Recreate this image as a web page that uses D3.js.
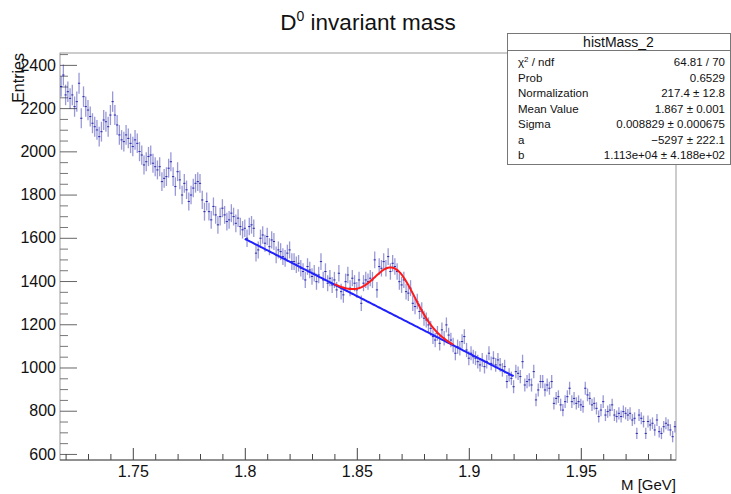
<!DOCTYPE html>
<html>
<head>
<meta charset="utf-8">
<script src="https://cdn.jsdelivr.net/npm/d3@7"></script>
<style>
  body { margin: 0; background: #fff; }
  svg { display: block; font-family: "Liberation Sans", Arial, Helvetica, sans-serif; }
</style>
</head>
<body>
<div id="chart"></div>
<script>
// histogram range and bin contents (275 bins)
const histRange = [1.7175, 1.9925];
const binCounts = [
  2300,2353,2261,2276,2245,2261,2207,2230,2315,2153,2253,2207,2191,2161,2130,2114,2099,2068,2091,2145,
  2137,2114,2168,2230,2168,2122,2076,2053,2045,2076,2060,2037,2022,2053,2037,1999,1983,1937,1952,1976,
  1983,1945,1929,1914,1929,1860,1875,1883,1922,1952,1883,1837,1906,1868,1798,1852,
  1822,1768,1798,1830,1852,1860,1852,1775,1721,1768,1721,1683,1745,1706,1660,1698,1737,1706,1675,1683,
  1714,1698,1667,1691,1652,1637,1644,1598,1652,1660,1644,1529,1544,1598,1613,1575,1606,1559,1590,1583,
  1521,1544,1536,1513,1505,1529,1544,1490,1490,1475,1482,1459,1444,1405,1467,
  1451,1421,1436,1397,1428,1490,1405,1444,1390,1413,1382,1405,1359,1436,1351,1336,1397,1428,1367,1413,
  1390,1359,1405,1297,1390,1405,1397,1413,1405,1498,1359,1467,1459,1490,1459,1513,1444,1482,1467,1444,
  1397,1382,1405,1351,1344,1367,1297,1282,1305,1259,1266,1228,1220,1197,1181,1143,
  1127,1158,1112,1174,1135,1197,1150,1127,1104,1066,1096,1089,1120,1143,1081,1043,1066,1050,1043,1027,
  1012,1035,1004,1027,1066,1019,1043,1012,1035,1012,989,1004,935,965,950,911,981,973,958,1027,
  919,935,943,919,981,850,896,935,935,896,919,904,935,834,857,865,
  827,803,842,865,904,842,857,834,842,827,819,904,873,857,827,834,811,773,803,842,
  780,796,803,827,780,773,788,773,796,788,780,788,757,765,695,780,765,750,695,750,
  734,742,711,757,703,695,726,742,734,711,680,726
];

// fit: gaus(Normalization, Mean, Sigma) + pol1(b + a*x)
const fitParams = { norm: 217.4, mean: 1.867, sigma: 0.008829, a: -5297, b: 11130 };
const bkgRange = [1.80, 1.92];
const totalRange = [1.84, 1.893];

const xTicks = [1.75, 1.8, 1.85, 1.9, 1.95];
const yTicks = [600, 800, 1000, 1200, 1400, 1600, 1800, 2000, 2200, 2400];
const yRange = [572, 2455];

const statsTitle = "histMass_2";
const statsLabels = ["χ2 / ndf", "Prob", "Normalization", "Mean Value", "Sigma", "a", "b"];
const statsValues = ["64.81 / 70", "0.6529", "217.4 ± 12.8", "1.867 ± 0.001",
                     "0.008829 ± 0.000675", "\u22125297 ± 222.1", "1.113e+04 ± 4.188e+02"];

const W = 731, H = 494;
const frame = { left: 60, right: 676, top: 53, bottom: 460 };

const svg = d3.select("#chart").append("svg").attr("width", W).attr("height", H);

const x = d3.scaleLinear().domain(histRange).range([frame.left, frame.right]);
const y = d3.scaleLinear().domain(yRange).range([frame.bottom, frame.top]);
const binW = (histRange[1] - histRange[0]) / binCounts.length;

// title
const title = svg.append("text").attr("x", 368).attr("y", 30)
  .attr("text-anchor", "middle").style("font-size", "22.5px").attr("fill", "#111");
title.append("tspan").text("D");
title.append("tspan").attr("dy", -9).style("font-size", "14px").text("0");
title.append("tspan").attr("dy", 9).text(" invariant mass");

// frame
svg.append("rect").attr("x", frame.left).attr("y", frame.top)
  .attr("width", frame.right - frame.left).attr("height", frame.bottom - frame.top)
  .attr("fill", "none").attr("stroke", "#9a9a9a");

// y axis (ticks inside)
const yMinor = d3.range(600, 2451, 50).filter(v => !yTicks.includes(v));
svg.append("g").attr("transform", `translate(${frame.left},0)`)
  .call(d3.axisLeft(y).tickValues(yMinor).tickSize(-8).tickFormat(""))
  .call(g => g.select(".domain").remove())
  .call(g => g.selectAll("line").attr("stroke", "#777"));
svg.append("g").attr("transform", `translate(${frame.left},0)`)
  .call(d3.axisLeft(y).tickValues(yTicks).tickSize(-17).tickPadding(4).tickFormat(d3.format("d")))
  .call(g => g.select(".domain").remove())
  .call(g => g.selectAll("line").attr("stroke", "#666"))
  .call(g => g.selectAll("text").style("font-size", "16px").attr("fill", "#111").attr("font-family", null));

// x axis (ticks inside)
const xMinor = d3.range(172, 200).map(v => v / 100).filter(v => !xTicks.some(t => Math.abs(t - v) < 1e-9));
svg.append("g").attr("transform", `translate(0,${frame.bottom})`)
  .call(d3.axisBottom(x).tickValues(xMinor).tickSize(-6).tickFormat(""))
  .call(g => g.select(".domain").remove())
  .call(g => g.selectAll("line").attr("stroke", "#444"));
svg.append("g").attr("transform", `translate(0,${frame.bottom})`)
  .call(d3.axisBottom(x).tickValues(xTicks).tickSize(-12).tickPadding(6).tickFormat(d => d3.format("")(d)))
  .call(g => g.select(".domain").remove())
  .call(g => g.selectAll("line").attr("stroke", "#444"))
  .call(g => g.selectAll("text").style("font-size", "16px").attr("fill", "#111").attr("font-family", null));
svg.append("line").attr("x1", frame.left).attr("x2", frame.right)
  .attr("y1", frame.bottom).attr("y2", frame.bottom).attr("stroke", "#555");

// axis titles
svg.append("text").attr("x", frame.right).attr("y", 490).attr("text-anchor", "end")
  .style("font-size", "15px").attr("fill", "#111").text("M [GeV]");
svg.append("text").attr("transform", `translate(24,${frame.top}) rotate(-90)`)
  .attr("text-anchor", "end").style("font-size", "16px").attr("fill", "#111").text("Entries");

// histogram with error bars
const bins = binCounts.map((v, i) => ({
  lo: histRange[0] + i * binW, hi: histRange[0] + (i + 1) * binW,
  c: histRange[0] + (i + 0.5) * binW, v, e: Math.sqrt(v)
}));
const hg = svg.append("g").attr("stroke", "#1c1ca8");
hg.selectAll("line.ev").data(bins).enter().append("line")
  .attr("x1", d => x(d.c)).attr("x2", d => x(d.c))
  .attr("y1", d => y(d.v - d.e)).attr("y2", d => y(d.v + d.e))
  .attr("stroke-width", 1.3).attr("stroke-opacity", 0.45);
hg.selectAll("line.eh").data(bins).enter().append("line")
  .attr("x1", d => x(d.lo)).attr("x2", d => x(d.hi))
  .attr("y1", d => y(d.v)).attr("y2", d => y(d.v))
  .attr("stroke-width", 1).attr("stroke-opacity", 0.9);

// fit curves
const bkg = t => fitParams.b + fitParams.a * t;
const total = t => bkg(t) + fitParams.norm * Math.exp(-0.5 * Math.pow((t - fitParams.mean) / fitParams.sigma, 2));
const line = d3.line().x(d => x(d[0])).y(d => y(d[1]));
const sample = (r, f) => d3.range(0, 201).map(k => { const t = r[0] + (r[1] - r[0]) * k / 200; return [t, f(t)]; });
svg.append("path").attr("d", line(sample(bkgRange, bkg)))
  .attr("fill", "none").attr("stroke", "#2020ff").attr("stroke-width", 2);
svg.append("path").attr("d", line(sample(totalRange, total)))
  .attr("fill", "none").attr("stroke", "#ff1a1a").attr("stroke-width", 2);

// stats box
const box = { x: 507, y: 33, w: 223, h: 131 };
const sb = svg.append("g");
sb.append("rect").attr("x", box.x + 0.5).attr("y", box.y + 0.5).attr("width", box.w).attr("height", box.h)
  .attr("fill", "#fff").attr("stroke", "#777");
sb.append("line").attr("x1", box.x).attr("x2", box.x + box.w).attr("y1", 50.5).attr("y2", 50.5).attr("stroke", "#777");
sb.append("text").attr("x", box.x + box.w / 2).attr("y", 47).attr("text-anchor", "middle")
  .style("font-size", "14px").attr("fill", "#111").text(statsTitle);
const rowY = i => 66 + i * 15.5;
statsLabels.forEach((lab, i) => {
  const t = sb.append("text").attr("x", 518).attr("y", rowY(i)).style("font-size", "11.5px").attr("fill", "#111");
  if (i === 0) {
    t.append("tspan").text("χ");
    t.append("tspan").attr("dy", -4).style("font-size", "8px").text("2");
    t.append("tspan").attr("dy", 4).text(" / ndf");
  } else t.text(lab);
  sb.append("text").attr("x", 725).attr("y", rowY(i)).attr("text-anchor", "end")
    .style("font-size", "11.5px").attr("fill", "#111").text(statsValues[i]);
});
</script>
</body>
</html>
